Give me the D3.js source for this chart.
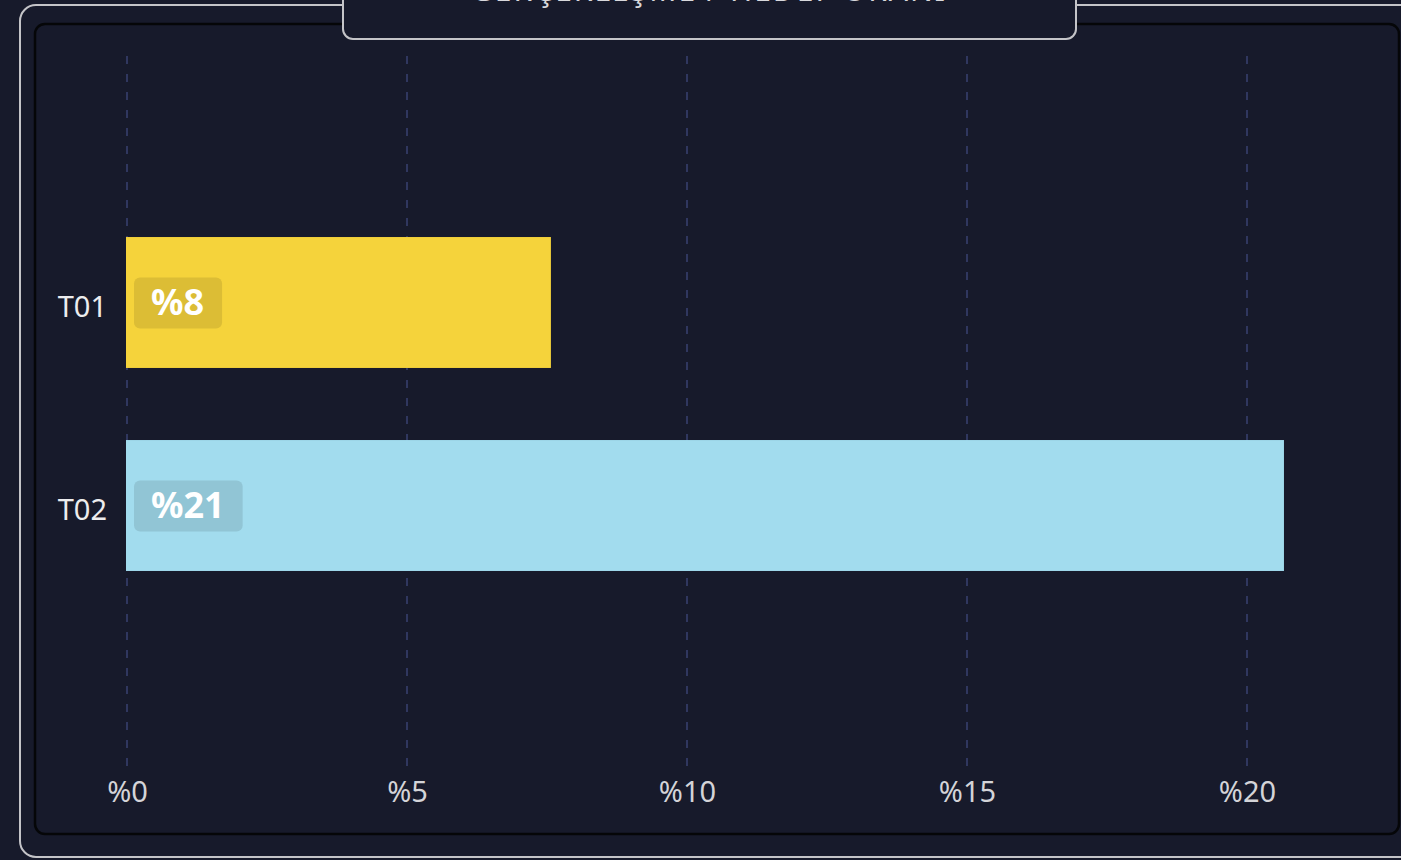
<!DOCTYPE html>
<html>
<head>
<meta charset="utf-8">
<script src="https://cdn.jsdelivr.net/npm/d3@7"></script>
<style>
  html, body { margin: 0; padding: 0; background: #171a2b; overflow: hidden; }
  svg { display: block; }
</style>
</head>
<body>
<script>
// chart data
var categories = ["T01", "T02"];
var values = [7.57, 20.66];
var valueLabels = ["%8", "%21"];
var barColors = ["#f5d33b", "#a2dcee"];
var xTicks = [0, 5, 10, 15, 20];
var titleText = "GERÇEKLEŞME / HEDEF ORANI";

var W = 1401, H = 860;
var bg = "#171a2b";

var svg = d3
  .select("body")
  .append("svg")
  .attr("width", W)
  .attr("height", H);

svg.append("rect").attr("width", W).attr("height", H).attr("fill", bg);

// outer frame
svg
  .append("rect")
  .attr("x", 20)
  .attr("y", 5)
  .attr("width", 1400)
  .attr("height", 852)
  .attr("rx", 16)
  .attr("fill", "none")
  .attr("stroke", "#c4c4c8")
  .attr("stroke-width", 2);

// inner panel
svg
  .append("rect")
  .attr("x", 35)
  .attr("y", 24)
  .attr("width", 1364)
  .attr("height", 810)
  .attr("rx", 10)
  .attr("fill", bg)
  .attr("stroke", "#050608")
  .attr("stroke-width", 2.5);

// title box (cut at top)
svg
  .append("rect")
  .attr("x", 343)
  .attr("y", -30)
  .attr("width", 733)
  .attr("height", 69)
  .attr("rx", 10)
  .attr("fill", bg)
  .attr("stroke", "#c4c4c8")
  .attr("stroke-width", 2);

svg
  .append("text")
  .attr("x", 709)
  .attr("y", 1)
  .attr("text-anchor", "middle")
  .style("font-family", "Noto Sans")
  .style("font-size", "30px")
  .style("letter-spacing", "2px")
  .style("fill", "#d8d8dc")
  .text(titleText);

// scales
var x = d3.scaleLinear().domain([0, 20]).range([127, 1247]);
var y = d3
  .scaleBand()
  .domain(categories)
  .range([60, 748])
  .paddingInner(0.355)
  .paddingOuter(0.872);

// dashed grid
svg
  .selectAll(".grid")
  .data(xTicks)
  .enter()
  .append("line")
  .attr("class", "grid")
  .attr("x1", function (d) {
    return x(d);
  })
  .attr("x2", function (d) {
    return x(d);
  })
  .attr("y1", 56)
  .attr("y2", 766)
  .attr("stroke", "#3a4272")
  .attr("stroke-width", 1.5)
  .attr("stroke-dasharray", "8,10");

// x axis labels
var xAxis = d3
  .axisBottom(x)
  .tickValues(xTicks)
  .tickSize(0)
  .tickPadding(0)
  .tickFormat(function (d) {
    return "%" + d;
  });

var gx = svg.append("g").attr("transform", "translate(0,781)").call(xAxis);
gx.select(".domain").remove();
gx.selectAll("text")
  .attr("dy", "0.71em")
  .style("font-family", "Noto Sans")
  .style("font-size", "29px")
  .style("fill", "#d4d4d8");

// y axis labels
var yAxis = d3.axisLeft(y).tickSize(0).tickPadding(0);
var gy = svg.append("g").attr("transform", "translate(107,4)").call(yAxis);
gy.select(".domain").remove();
gy.selectAll("text")
  .attr("dy", "0.35em")
  .style("font-family", "Noto Sans")
  .style("font-size", "29px")
  .style("fill", "#ececee");

// bars
var bar = svg
  .selectAll(".bar")
  .data(categories)
  .enter()
  .append("g")
  .attr("class", "bar")
  .attr("transform", function (d) {
    return "translate(0," + y(d) + ")";
  });

bar
  .append("rect")
  .attr("x", x(0) - 1)
  .attr("width", function (d, i) {
    return x(values[i]) - x(0) + 1;
  })
  .attr("height", y.bandwidth())
  .attr("fill", function (d, i) {
    return barColors[i];
  });

// value badges
var badge = bar
  .append("g")
  .attr("transform", "translate(134," + (y.bandwidth() / 2) + ")");

badge
  .append("text")
  .attr("class", "val")
  .attr("x", 17)
  .attr("dy", "0.35em")
  .style("font-family", "Noto Sans")
  .style("font-weight", "bold")
  .style("font-size", "36px")
  .style("fill", "#ffffff")
  .text(function (d, i) {
    return valueLabels[i];
  });

badge.each(function () {
  var g = d3.select(this);
  var w = g.select("text").node().getComputedTextLength();
  g.insert("rect", "text")
    .attr("x", 0)
    .attr("y", -25)
    .attr("width", w + 35)
    .attr("height", 51)
    .attr("rx", 6)
    .attr("fill", "rgba(0,0,0,0.1)");
});
</script>
</body>
</html>
